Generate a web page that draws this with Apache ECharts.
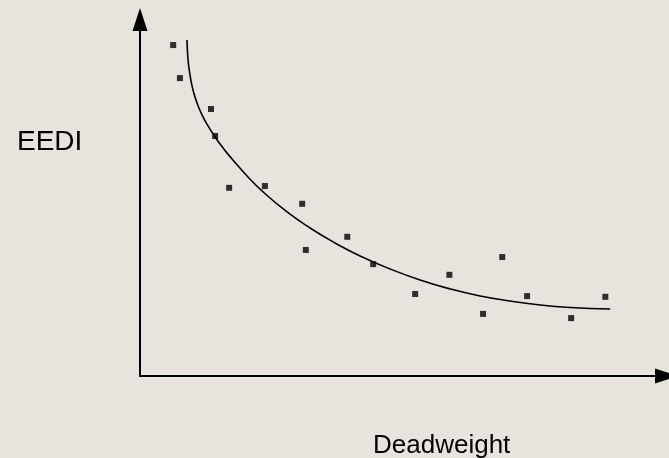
<!DOCTYPE html>
<html>
<head>
<meta charset="utf-8">
<title>EEDI vs Deadweight</title>
<script src="https://cdn.jsdelivr.net/npm/echarts@6/dist/echarts.min.js"></script>
<style>
  html, body { margin: 0; padding: 0; background: #e9e3dd; }
  #chart { width: 669px; height: 458px; }
</style>
</head>
<body>
<div id="chart"></div>
<script>
// scattered ships (deadweight, EEDI), arbitrary units 0-100
const shipDwt = [6.4, 7.7, 13.7, 14.5, 17.2, 24.1, 31.3, 32.0, 40.0, 45.0, 53.1, 59.7, 66.2, 69.9, 74.7, 83.2, 89.8];
const shipEedi = [93.2, 83.9, 75.2, 67.6, 53.0, 53.5, 48.5, 35.5, 39.2, 31.5, 23.1, 28.5, 17.5, 33.5, 22.5, 16.3, 22.3];

// reference curve
const curveDwt = [9.07, 9.27, 9.65, 10.23, 11.0, 11.97, 13.13, 14.48, 16.02, 17.76, 20.66, 23.55, 28.38, 32.82, 37.64, 42.47, 48.26, 54.05, 59.85, 65.64, 71.43, 77.22, 83.01, 90.73];
const curveEedi = [94.65, 89.01, 84.79, 80.56, 76.9, 73.52, 70.42, 67.32, 64.23, 61.13, 56.34, 52.11, 46.2, 41.69, 37.46, 33.8, 30.14, 27.04, 24.51, 22.54, 21.13, 20.0, 19.3, 18.87];

const yName = "EEDI";
const xName = "Deadweight";

const chart = echarts.init(document.getElementById("chart"));

// 坐标轴只画线和箭头
const axisStyle = {
  axisLine: {
    show: true,
    onZero: false,
    symbol: ["none", "triangle"],
    symbolSize: [15, 23],
    lineStyle: { color: "#000", width: 2 },
  },
  axisTick: { show: false },
  axisLabel: { show: false },
  splitLine: { show: false },
};

const option = {
  backgroundColor: "#e9e3dd",
  animation: false,
  title: [
    {
      text: yName,
      left: 12,
      top: 123,
      textStyle: { fontFamily: "Liberation Sans, Arial, sans-serif", fontSize: 28, fontWeight: "normal", color: "#000" },
    },
    {
      text: xName,
      left: 368,
      top: 428,
      textStyle: { fontFamily: "Liberation Sans, Arial, sans-serif", fontSize: 26, fontWeight: "normal", color: "#000" },
    },
  ],
  grid: { left: 140, right: 2.5, top: 19.5, bottom: 82 },
  xAxis: Object.assign({ type: "value", min: 0, max: 101.6 }, axisStyle),
  yAxis: Object.assign({ type: "value", min: 0, max: 100.4 }, axisStyle),
  series: [
    {
      type: "line",
      data: curveDwt.map((x, i) => [x, curveEedi[i]]),
      smooth: 0.5,
      showSymbol: false,
      lineStyle: { color: "#000", width: 1.6 },
      silent: true,
    },
    {
      type: "scatter",
      data: shipDwt.map((x, i) => [x, shipEedi[i]]),
      symbol: "rect",
      symbolSize: 6,
      itemStyle: { color: "#000" },
    },
  ],
};

chart.setOption(option);
</script>
</body>
</html>
